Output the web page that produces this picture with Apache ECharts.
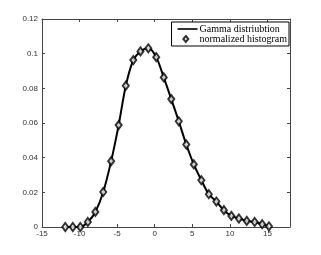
<!DOCTYPE html>
<html><head><meta charset="utf-8">
<script src="https://cdn.jsdelivr.net/npm/echarts@6/dist/echarts.min.js"></script>
<style>html,body{margin:0;padding:0;background:#fff}#c{width:321px;height:255px}</style>
</head><body><div id="c"></div>
<script>
var binCenters = [-11.9,-10.9,-9.9,-8.9,-7.9,-6.85,-5.8,-4.8,-3.85,-2.85,-1.9,-0.85,0.2,1.2,2.2,3.2,4.2,5.2,6.2,7.2,8.2,9.2,10.2,11.2,12.25,13.3,14.3,15.2];
var histValues = [0,0,0,0.0029,0.0087,0.0202,0.038,0.0588,0.0815,0.0963,0.1013,0.1031,0.098,0.0863,0.0738,0.061,0.0476,0.0361,0.027,0.0189,0.0147,0.0097,0.0064,0.0049,0.0035,0.0029,0.0016,0.0004];
var xTicks = [-15,-10,-5,0,5,10,15];
var yTicks = [0,0.02,0.04,0.06,0.08,0.1,0.12];
var seriesNames = ['Gamma distriubtion','normalized histogram'];

var pts = binCenters.map(function(x,i){return [x,histValues[i]];});
var axCol = '#444';
var lblStyle = {color:'#333', fontFamily:'Liberation Sans, Arial, sans-serif', fontSize:8};
var chart = echarts.init(document.getElementById('c'));
chart.setOption({
  animation:false,
  grid:{left:42,right:31,top:19,bottom:28,show:false},
  legend:{
    right:32, top:22, orient:'vertical', itemGap:0, padding:[2,2,2,5],
    borderColor:'#000', borderWidth:1, backgroundColor:'#fff',
    itemWidth:20, itemHeight:8,
    textStyle:{fontFamily:'Liberation Serif, Times New Roman, serif', fontSize:10, lineHeight:10, color:'#000', padding:[0,0,0,-3]},
    data:[{name:seriesNames[0], icon:'path://M0,3.2 L20,3.2 L20,4.8 L0,4.8 Z M0,0 L0,0 M20,8 L20,8'},
          {name:seriesNames[1], icon:'path://M0,0 L0,0 M20,8 L20,8 M8.3,1 L10.8,4 L8.3,7 L5.8,4 Z'}]
  },
  xAxis:[{
    type:'value', min:-15, max:18, interval:5, position:'bottom',
    axisLine:{onZero:false, lineStyle:{color:axCol,width:1}},
    axisTick:{inside:true,length:3,lineStyle:{color:axCol}},
    axisLabel:Object.assign({margin:3, showMaxLabel:false, formatter:function(v){return xTicks.indexOf(v)>=0? String(v):'';}}, lblStyle),
    splitLine:{show:false}
  },{
    type:'value', min:-15, max:18, interval:5, position:'top',
    axisLine:{onZero:false, lineStyle:{color:axCol,width:1}},
    axisTick:{inside:true,length:3,lineStyle:{color:axCol}},
    axisLabel:{show:false}, splitLine:{show:false}
  }],
  yAxis:[{
    type:'value', min:0, max:0.12, interval:0.02, position:'left',
    axisLine:{show:true,onZero:false, lineStyle:{color:axCol,width:1}},
    axisTick:{show:true,inside:true,length:3,lineStyle:{color:axCol}},
    axisLabel:Object.assign({margin:4, formatter:function(v){var r=Math.round(v*100)/100; return String(r);}}, lblStyle),
    splitLine:{show:false}
  },{
    type:'value', min:0, max:0.12, interval:0.02, position:'right',
    axisLine:{show:true,onZero:false, lineStyle:{color:axCol,width:1}},
    axisTick:{show:true,inside:true,length:3,lineStyle:{color:axCol}},
    axisLabel:{show:false}, splitLine:{show:false}
  }],
  series:[{
    name:seriesNames[0], type:'line', data:pts, smooth:0.3, showSymbol:false,
    lineStyle:{color:'#000',width:2}, itemStyle:{color:'#000'}, z:2
  },{
    name:seriesNames[1], type:'scatter', data:pts, symbol:'diamond', symbolSize:[6,8],
    itemStyle:{color:'#fff', borderColor:'#000', borderWidth:2}, z:3
  }]
});
</script></body></html>
